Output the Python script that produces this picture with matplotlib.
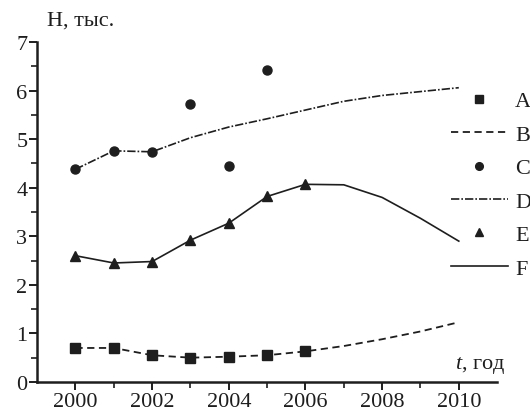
import matplotlib
matplotlib.use("Agg")
import matplotlib.pyplot as plt
import numpy as np

plt.rcParams['font.family'] = ['Liberation Serif', 'DejaVu Serif']
plt.rcParams['mathtext.fontset'] = 'custom'
plt.rcParams['mathtext.rm'] = 'Liberation Serif'
plt.rcParams['mathtext.it'] = 'Liberation Serif:italic'

# measured points
years_pts = [2000, 2001, 2002, 2003, 2004, 2005, 2006]
A = [0.70, 0.70, 0.55, 0.50, 0.52, 0.55, 0.63]
C = [4.38, 4.76, 4.74, 5.72, 4.45, 6.42]
E = [2.60, 2.45, 2.48, 2.92, 3.27, 3.82, 4.07]

# model curves
years_all = [2000, 2001, 2002, 2003, 2004, 2005, 2006, 2007, 2008, 2009, 2010]
B = [0.70, 0.70, 0.55, 0.50, 0.52, 0.55, 0.63, 0.74, 0.88, 1.04, 1.23]
D = [4.38, 4.76, 4.74, 5.03, 5.25, 5.42, 5.60, 5.78, 5.90, 5.98, 6.06]
F = [2.60, 2.45, 2.48, 2.92, 3.27, 3.82, 4.07, 4.06, 3.80, 3.37, 2.90]

labels = ['A', 'B', 'C', 'D', 'E', 'F']
ink = '#1e1e1e'

fig = plt.figure(figsize=(5.30, 4.14), dpi=100)
ax = fig.add_axes([0.070, 0.075, 0.868, 0.821])

hA, = ax.plot(years_pts, A, ls='none', marker='s', ms=6.5, color=ink)
hB, = ax.plot(years_all, B, ls=(0, (4, 2.5)), lw=1.3, color=ink)
hC, = ax.plot(years_pts[:len(C)], C, ls='none', marker='o', ms=6.5, color=ink)
hD, = ax.plot(years_all, D, ls=(0, (5, 1.2, 1, 1.2)), lw=1.2, color=ink)
hE, = ax.plot(years_pts, E, ls='none', marker='^', ms=7.5, color=ink)
hF, = ax.plot(years_all, F, ls='-', lw=1.2, color=ink)

ax.set_xlim(1999, 2011)
ax.set_ylim(0, 7)
ax.set_xticks(np.arange(2000, 2011, 2))
ax.set_xticks(np.arange(2001, 2011, 2), minor=True)
ax.set_yticks(np.arange(0, 8, 1))
ax.set_yticks(np.arange(0.5, 7, 1), minor=True)
ax.spines['top'].set_visible(False)
ax.spines['right'].set_visible(False)
for s in ['left', 'bottom']:
    ax.spines[s].set_linewidth(1.8)
    ax.spines[s].set_color(ink)
ax.tick_params(which='major', direction='out', length=6, width=1.4,
               labelsize=16, colors=ink, pad=1)
ax.tick_params(which='minor', direction='out', length=4, width=1.2, colors=ink)

fig.text(0.089, 0.948, 'Н, тыс.', fontsize=16, color=ink, ha='left', va='center')
fig.text(0.858, 0.118, r'$\mathit{t}$, год', fontsize=16, color=ink,
         ha='left', va='center')

fig.legend([hA, hB, hC, hD, hE, hF], labels, loc='upper left',
           bbox_to_anchor=(0.850, 0.778), frameon=False, fontsize=16,
           markerscale=0.85, handlelength=2.6, handletextpad=0.3,
           labelspacing=0.58, borderpad=0, borderaxespad=0, labelcolor=ink)

fig.savefig('out.png', dpi=100)
